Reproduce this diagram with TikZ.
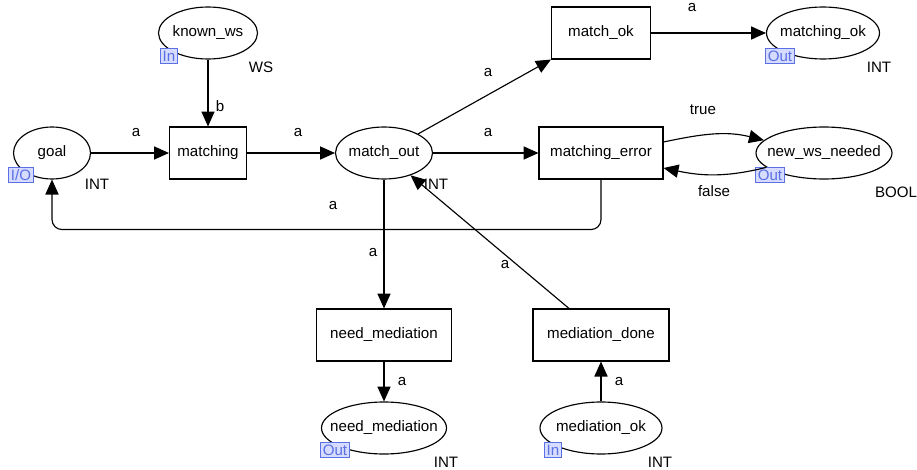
\documentclass[tikz,border=0pt]{standalone}
\usepackage{fontspec}
\setmainfont{Liberation Sans}
\usepackage{xcolor}
\usepackage{tikz}
\usetikzlibrary{arrows.meta,positioning,shapes.geometric}
\definecolor{ink}{HTML}{000000}
\definecolor{tagc}{HTML}{5B70E4}
\definecolor{tagf}{HTML}{D6DCFF}
\newcommand{\plc}[1]{\makebox[0pt]{#1}}
\tikzset{
  place/.style={draw=ink,ellipse,line width=0.65pt,inner sep=0pt,minimum height=1.04cm,minimum width=#1},
  trans/.style={draw=ink,rectangle,line width=0.65pt,inner sep=0pt,minimum height=1.04cm,minimum width=#1},
  arc/.style={-{Triangle[length=8.5pt,width=7.5pt]},line width=0.65pt,draw=ink},
  port/.style={draw=tagc,fill=tagf,text=tagc,line width=0.5pt,inner xsep=1.2pt,inner ysep=0.8pt,minimum height=0.31cm},
  typ/.style={inner sep=0pt},
  lbl/.style={inner sep=0pt},
}
\begin{document}
\begin{tikzpicture}[x=0.02cm,y=0.02cm,font=\fontsize{8.6}{10}\selectfont]
  \useasboundingbox (0,0) rectangle (917,-470);
  % places
  \node[place=1.54cm] (goal)      at (52,-153)  {\plc{goal}};
  \node[place=1.98cm] (knownws)   at (208,-33)  {\plc{known\_ws}};
  \node[place=1.94cm] (matchout)  at (384,-153) {\plc{match\_out}};
  \node[place=2.26cm] (matchingok) at (823,-33) {\plc{matching\_ok}};
  \node[place=2.72cm] (newws)     at (824,-153) {\plc{new\_ws\_needed}};
  \node[place=2.50cm] (needmedp)  at (384,-428) {\plc{need\_mediation}};
  \node[place=2.44cm] (medok)     at (601,-428) {\plc{mediation\_ok}};
  % transitions
  \node[trans=1.54cm] (matching)  at (208,-153) {matching};
  \node[trans=1.98cm] (matchok)   at (601,-33)  {match\_ok};
  \node[trans=2.48cm] (materr)    at (601,-153) {matching\_error};
  \node[trans=2.70cm] (needmedt)  at (384,-335) {need\_mediation};
  \node[trans=2.72cm] (meddone)   at (601,-335) {mediation\_done};
  % port tags
  \node[port] (goalport)    at (21,-175)  {I/O};
  \node[port] (knownport)   at (169,-56)  {In};
  \node[port] (okport)      at (780,-56)  {Out};
  \node[port] (newwsport)   at (770,-175) {Out};
  \node[port] (needport)    at (335,-450) {Out};
  \node[port] (medokport)   at (553,-450) {In};
  % colour sets
  \node[typ] (goaltyp)    at (97,-184)  {INT};
  \node[typ] (knowntyp)   at (261,-67)  {WS};
  \node[typ] (outtyp)     at (436,-184) {INT};
  \node[typ] (oktyp)      at (879,-67)  {INT};
  \node[typ] (newwstyp)   at (896,-192) {BOOL};
  \node[typ] (needtyp)    at (446,-462) {INT};
  \node[typ] (medoktyp)   at (660,-462) {INT};
  % arcs
  \draw[arc] (knownws) -- (matching);
  \draw[arc] (goal) -- (matching);
  \draw[arc] (matching) -- (matchout);
  \draw[arc] (matchout) -- (matchok.south west);
  \draw[arc] (matchok) -- (matchingok);
  \draw[arc] (matchout) -- (materr);
  \draw[arc] ([yshift=0.22cm]materr.east) to[out=12,in=166] (newws.168);
  \draw[arc] (newws.194) to[out=194,in=-12] ([yshift=-0.3cm]materr.east);
  \draw[arc,rounded corners=0.2cm] (materr.south) -- ++(0,-50) -| (goal.south);
  \draw[arc] (matchout) -- (needmedt);
  \draw[arc] (needmedt) -- (needmedp);
  \draw[arc] ([xshift=-0.64cm]meddone.north) -- (matchout);
  \draw[arc] (medok) -- (meddone);
  % inscriptions
  \node[lbl] (lb)  at (220,-106) {b};
  \node[lbl] (l1)  at (136,-133) {a};
  \node[lbl] (l2)  at (298,-133) {a};
  \node[lbl] (l3)  at (488,-73)  {a};
  \node[lbl] (l4)  at (692,-8)   {a};
  \node[lbl] (l5)  at (488,-133) {a};
  \node[lbl] (ltr) at (703,-110) {true};
  \node[lbl] (lfa) at (714,-191) {false};
  \node[lbl] (l6)  at (333,-206) {a};
  \node[lbl] (l7)  at (373,-253) {a};
  \node[lbl] (l8)  at (402,-382) {a};
  \node[lbl] (l9)  at (505,-265) {a};
  \node[lbl] (l10) at (619,-382) {a};
\end{tikzpicture}
\end{document}
